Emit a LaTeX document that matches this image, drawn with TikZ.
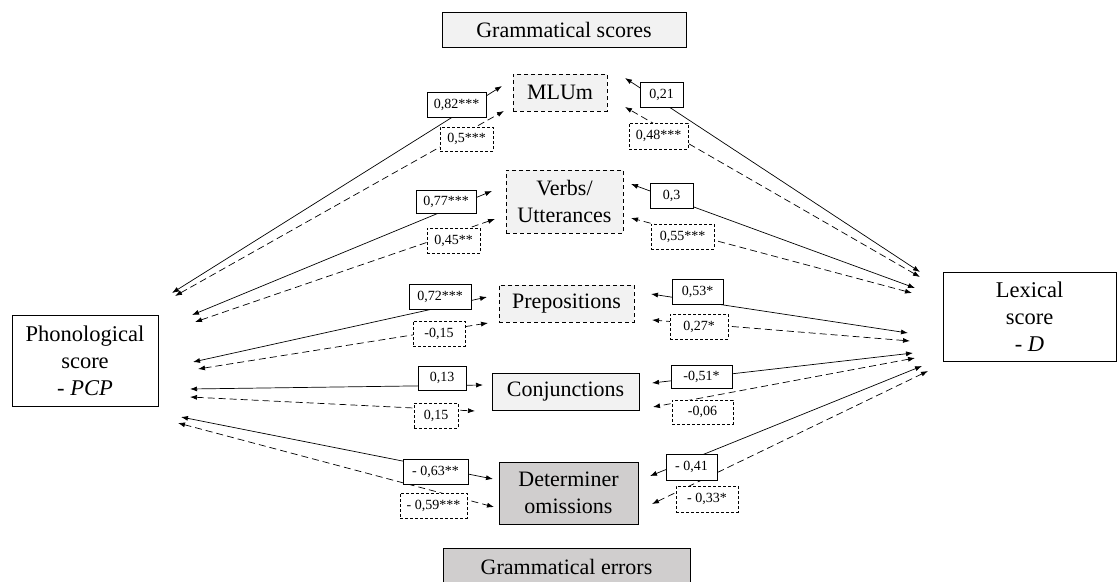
\documentclass[tikz,border=0pt]{standalone}
\usepackage{fontspec}
\setmainfont{Liberation Serif}
\usetikzlibrary{arrows.meta}
\definecolor{lightfill}{HTML}{F2F2F2}
\definecolor{darkfill}{HTML}{D0CECE}
\tikzset{
  tip/.tip={Latex[length=7pt,width=5pt]},
  sl/.style={tip-tip, line width=0.7pt},
  dl/.style={tip-tip, line width=0.7pt, dash pattern=on 7pt off 4pt},
  lab/.style={draw, fill=white, line width=0.7pt, inner sep=0pt, font=\fontsize{14}{16}\selectfont},
  labd/.style={lab, dash pattern=on 3pt off 2pt},
  mid/.style={draw, line width=0.7pt, inner sep=0pt, align=center, font=\fontsize{22}{27}\selectfont},
  midd/.style={mid, fill=lightfill, dash pattern=on 4pt off 3pt},
  side/.style={draw, line width=0.8pt, inner sep=0pt, align=center, font=\fontsize{22.5}{27}\selectfont},
}
\begin{document}
\begin{tikzpicture}[x=1pt,y=-1pt]
\useasboundingbox (0,0) rectangle (1118,581);
% side boxes
\node[side, minimum width=146pt, minimum height=91pt] (phon) at (85,360.5) {Phonological\\score\\- \textit{PCP}};
\node[side, minimum width=173pt, minimum height=89pt] (lex) at (1029.5,316.5) {Lexical\\score\\- \textit{D}};
% group titles
\node[mid, fill=lightfill, minimum width=244pt, minimum height=35pt] (gs) at (564,29.5) {Grammatical scores};
\node[mid, fill=darkfill, minimum width=247pt, minimum height=38pt] (ge) at (566.5,567) {Grammatical errors};
% middle boxes
\node[midd, minimum width=94pt, minimum height=37pt] (mlu) at (560,92.5) {MLUm};
\node[midd, minimum width=117pt, minimum height=63pt] (verb) at (564.5,201.5) {Verbs/\\Utterances};
\node[midd, minimum width=135pt, minimum height=37pt] (prep) at (566.5,303.5) {Prepositions};
\node[mid, fill=lightfill, minimum width=147pt, minimum height=37pt] (conj) at (565.5,391.5) {Conjunctions};
\node[mid, fill=darkfill, minimum width=139pt, minimum height=62pt] (det) at (568.5,493) {Determiner\\omissions};
% connector end points, left side
\coordinate (a1) at (172,293); \coordinate (b1) at (502,86);
\coordinate (a2) at (175,296); \coordinate (b2) at (504,111);
\coordinate (a3) at (192,315); \coordinate (b3) at (492,191);
\coordinate (a4) at (195,322); \coordinate (b4) at (495,219);
\coordinate (a5) at (193,362); \coordinate (b5) at (487,297);
\coordinate (a6) at (198,369); \coordinate (b6) at (488,323);
\coordinate (a7) at (190,389); \coordinate (b7) at (483,385);
\coordinate (a8) at (190,397); \coordinate (b8) at (475,411);
\coordinate (a9) at (181,417); \coordinate (b9) at (493,479);
\coordinate (a10) at (178,423); \coordinate (b10) at (494,507);
% connector end points, right side
\coordinate (c1) at (920,272); \coordinate (d1) at (625,78);
\coordinate (c2) at (920,277); \coordinate (d2) at (625,107);
\coordinate (c3) at (915,288); \coordinate (d3) at (631,184);
\coordinate (c4) at (912,293); \coordinate (d4) at (631,218);
\coordinate (c5) at (908,333); \coordinate (d5) at (651,294);
\coordinate (c6) at (910,341); \coordinate (d6) at (652,320);
\coordinate (c7) at (913,353); \coordinate (d7) at (652,383);
\coordinate (c8) at (915,358); \coordinate (d8) at (653,407);
\coordinate (c9) at (922,366); \coordinate (d9) at (650,476);
\coordinate (c10) at (928,371); \coordinate (d10) at (652,504);
% connectors
\draw[sl] (a1) -- (b1);
\draw[dl] (a2) -- (b2);
\draw[sl] (a3) -- (b3);
\draw[dl] (a4) -- (b4);
\draw[sl] (a5) -- (b5);
\draw[dl] (a6) -- (b6);
\draw[sl] (a7) -- (b7);
\draw[dl] (a8) -- (b8);
\draw[sl] (a9) -- (b9);
\draw[dl] (a10) -- (b10);
\draw[sl] (c1) -- (d1);
\draw[dl] (c2) -- (d2);
\draw[sl] (c3) -- (d3);
\draw[dl] (c4) -- (d4);
\draw[sl] (c5) -- (d5);
\draw[dl] (c6) -- (d6);
\draw[sl] (c7) -- (d7);
\draw[dl] (c8) -- (d8);
\draw[sl] (c9) -- (d9);
\draw[dl] (c10) -- (d10);
% labels, left
\node[lab, minimum width=59pt, minimum height=25pt] (l1) at (456.5,104.5) {0,82***};
\node[labd, minimum width=53pt, minimum height=24pt] (l2) at (466.5,139) {0,5***};
\node[lab, minimum width=60pt, minimum height=23pt] (l3) at (446,201.5) {0,77***};
\node[labd, minimum width=53pt, minimum height=25pt] (l4) at (453.5,240.5) {0,45**};
\node[lab, minimum width=62pt, minimum height=25pt] (l5) at (440,296.5) {0,72***};
\node[labd, minimum width=52pt, minimum height=25pt] (l6) at (439,333.5) {-0,15};
\node[lab, minimum width=48pt, minimum height=24pt] (l7) at (442,378) {0,13};
\node[labd, minimum width=44pt, minimum height=25pt] (l8) at (436,415.5) {0,15};
\node[lab, minimum width=65pt, minimum height=25pt] (l9) at (435.5,471.5) {- 0,63**};
\node[labd, minimum width=67pt, minimum height=25pt] (l10) at (433.5,505.5) {- 0,59***};
% labels, right
\node[lab, minimum width=43pt, minimum height=25pt] (r1) at (661.5,94.5) {0,21};
\node[labd, minimum width=59pt, minimum height=26pt] (r2) at (658.5,136) {0,48***};
\node[lab, minimum width=43pt, minimum height=25pt] (r3) at (671.5,195.5) {0,3};
\node[labd, minimum width=63pt, minimum height=25pt] (r4) at (682.5,236.5) {0,55***};
\node[lab, minimum width=51pt, minimum height=25pt] (r5) at (697.5,291.5) {0,53*};
\node[labd, minimum width=58pt, minimum height=25pt] (r6) at (699,326.5) {0,27*};
\node[lab, minimum width=61pt, minimum height=23pt] (r7) at (701.5,376.5) {-0,51*};
\node[labd, minimum width=61pt, minimum height=24pt] (r8) at (702.5,412) {-0,06};
\node[lab, minimum width=51pt, minimum height=26pt] (r9) at (691.5,467) {- 0,41};
\node[labd, minimum width=62pt, minimum height=26pt] (r10) at (707,499) {- 0,33*};
\end{tikzpicture}
\end{document}
